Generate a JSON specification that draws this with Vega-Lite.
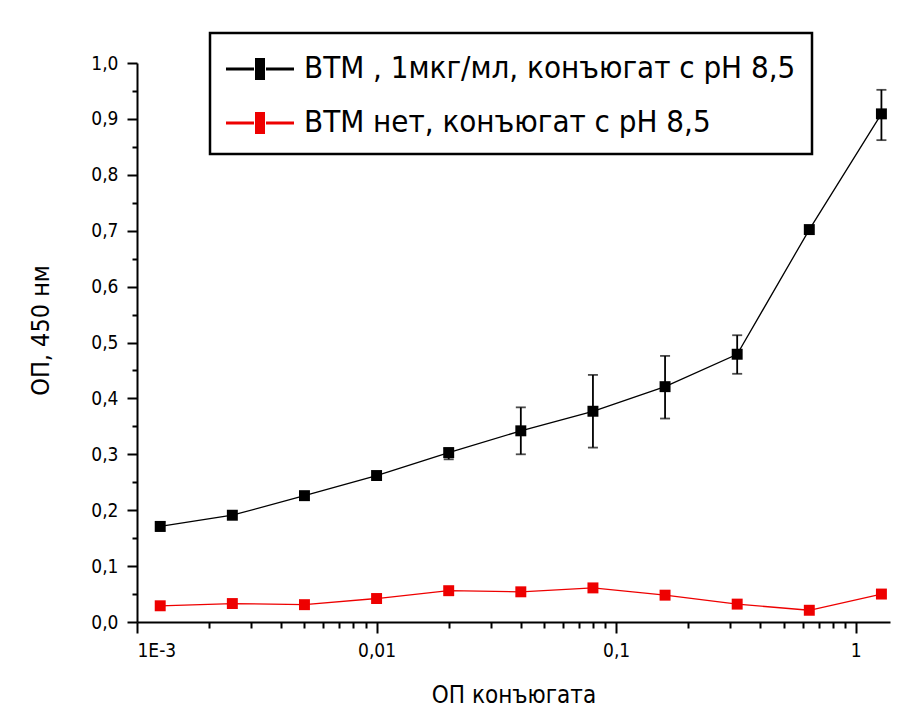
{
  "$schema": "https://vega.github.io/schema/vega-lite/v6.json",
  "autosize": {"type": "none"},
  "width": 753,
  "height": 559,
  "padding": {"left": 137, "top": 63, "right": 28, "bottom": 99},
  "background": "#ffffff",
  "config": {
    "view": {"stroke": null},
    "font": "DejaVu Sans Condensed, Liberation Sans, sans-serif",
    "axis": {"labelFont": "DejaVu Sans Condensed, Liberation Sans, sans-serif", "titleFont": "DejaVu Sans Condensed, Liberation Sans, sans-serif", "labelFontSize": 19, "labelColor": "#000", "titleColor": "#000", "domainColor": "#000", "tickColor": "#000", "grid": false, "titleFontWeight": "normal"}
  },
  "data": {
    "values": [
      {"x": 0.00125, "y": 0.171, "series": "ВТМ , 1мкг/мл, конъюгат с рН 8,5", "lo": 0.163, "hi": 0.179},
      {"x": 0.0025, "y": 0.191, "series": "ВТМ , 1мкг/мл, конъюгат с рН 8,5"},
      {"x": 0.005, "y": 0.226, "series": "ВТМ , 1мкг/мл, конъюгат с рН 8,5"},
      {"x": 0.01, "y": 0.262, "series": "ВТМ , 1мкг/мл, конъюгат с рН 8,5"},
      {"x": 0.02, "y": 0.303, "series": "ВТМ , 1мкг/мл, конъюгат с рН 8,5", "lo": 0.291, "hi": 0.311},
      {"x": 0.04, "y": 0.342, "series": "ВТМ , 1мкг/мл, конъюгат с рН 8,5", "lo": 0.300, "hi": 0.384},
      {"x": 0.08, "y": 0.377, "series": "ВТМ , 1мкг/мл, конъюгат с рН 8,5", "lo": 0.312, "hi": 0.442},
      {"x": 0.16, "y": 0.421, "series": "ВТМ , 1мкг/мл, конъюгат с рН 8,5", "lo": 0.364, "hi": 0.476},
      {"x": 0.32, "y": 0.479, "series": "ВТМ , 1мкг/мл, конъюгат с рН 8,5", "lo": 0.444, "hi": 0.513},
      {"x": 0.64, "y": 0.702, "series": "ВТМ , 1мкг/мл, конъюгат с рН 8,5"},
      {"x": 1.28, "y": 0.909, "series": "ВТМ , 1мкг/мл, конъюгат с рН 8,5", "lo": 0.862, "hi": 0.952},
      {"x": 0.00125, "y": 0.029, "series": "ВТМ нет, конъюгат с рН 8,5"},
      {"x": 0.0025, "y": 0.033, "series": "ВТМ нет, конъюгат с рН 8,5"},
      {"x": 0.005, "y": 0.031, "series": "ВТМ нет, конъюгат с рН 8,5"},
      {"x": 0.01, "y": 0.042, "series": "ВТМ нет, конъюгат с рН 8,5"},
      {"x": 0.02, "y": 0.056, "series": "ВТМ нет, конъюгат с рН 8,5"},
      {"x": 0.04, "y": 0.054, "series": "ВТМ нет, конъюгат с рН 8,5"},
      {"x": 0.08, "y": 0.061, "series": "ВТМ нет, конъюгат с рН 8,5"},
      {"x": 0.16, "y": 0.048, "series": "ВТМ нет, конъюгат с рН 8,5"},
      {"x": 0.32, "y": 0.032, "series": "ВТМ нет, конъюгат с рН 8,5"},
      {"x": 0.64, "y": 0.021, "series": "ВТМ нет, конъюгат с рН 8,5"},
      {"x": 1.28, "y": 0.050, "series": "ВТМ нет, конъюгат с рН 8,5"}
    ]
  },
  "resolve": {"axis": {"x": "independent", "y": "independent"}},
  "layer": [
    {
      "mark": {"type": "line", "strokeWidth": 1.3},
      "encoding": {
        "x": {"field": "x", "type": "quantitative",
          "scale": {"type": "log", "domain": [0.001, 1.39], "nice": false, "clamp": false},
          "axis": {"orient": "bottom", "values": [0.001, 0.01, 0.1, 1], "tickSize": 11, "tickWidth": 2, "domainWidth": 2,
            "labelExpr": "datum.value < 0.005 ? '1E-3' : datum.value < 0.05 ? '0,01' : datum.value < 0.5 ? '0,1' : '1'",
            "labelFontSize": 19, "labelPadding": 8, "title": "ОП конъюгата", "titleFontSize": 24, "titleY": 73, "titleBaseline": "middle"}},
        "y": {"field": "y", "type": "quantitative",
          "scale": {"domain": [0, 1], "nice": false},
          "axis": {"orient": "left", "values": [0, 0.1, 0.2, 0.3, 0.4, 0.5, 0.6, 0.7, 0.8, 0.9, 1.0], "tickSize": 10, "tickWidth": 2, "domainWidth": 2,
            "labelExpr": "replace(format(datum.value, '.1f'), '.', ',')",
            "labelFontSize": 19, "labelPadding": 9, "title": "ОП, 450 нм", "titleFontSize": 25, "titleX": -97, "titleY": 267, "titleBaseline": "middle"}},
        "color": {"field": "series", "type": "nominal",
          "scale": {"domain": ["ВТМ , 1мкг/мл, конъюгат с рН 8,5", "ВТМ нет, конъюгат с рН 8,5"], "range": ["#000000", "#ee0000"]},
          "legend": {"orient": "none", "legendX": 73, "legendY": -30, "title": null,
            "symbolType": "M-1,-0.075H0.4V0.075H-1Z M0.45,-0.55H0.95V0.55H0.45Z M1,-0.075H2.4V0.075H1Z",
            "symbolSize": 1600, "symbolStrokeWidth": 0, "symbolOpacity": 1,
            "labelFont": "DejaVu Sans Condensed, Liberation Sans, sans-serif", "labelFontSize": 31, "labelColor": "#000", "labelLimit": 800,
            "labelOffset": 38, "rowPadding": 19, "padding": 16,
            "strokeColor": "#000", "fillColor": "#ffffff",
            "encode": {"symbols": {"update": {"fill": {"scale": "color", "field": "value"}, "strokeWidth": {"value": 0}, "opacity": {"value": 1}}},
                       "legend": {"update": {"strokeWidth": {"value": 2.5}}}}}}
      }
    },
    {
      "mark": {"type": "point", "shape": "square", "filled": true, "size": 120, "opacity": 1},
      "encoding": {
        "x": {"field": "x", "type": "quantitative",
          "axis": {"orient": "bottom", "values": [0.002, 0.003, 0.004, 0.005, 0.006, 0.007, 0.008, 0.009, 0.02, 0.03, 0.04, 0.05, 0.06, 0.07, 0.08, 0.09, 0.2, 0.3, 0.4, 0.5, 0.6, 0.7, 0.8, 0.9],
            "tickSize": 6, "tickWidth": 2, "labels": false, "domain": false, "title": null}},
        "y": {"field": "y", "type": "quantitative",
          "axis": {"orient": "left", "values": [0.05, 0.15, 0.25, 0.35, 0.45, 0.55, 0.65, 0.75, 0.85, 0.95],
            "tickSize": 5, "tickWidth": 2, "labels": false, "domain": false, "title": null}},
        "color": {"field": "series", "type": "nominal"}
      }
    },
    {
      "transform": [{"filter": "isValid(datum.lo)"}],
      "mark": {"type": "rule", "color": "#000", "strokeWidth": 1.8},
      "encoding": {
        "x": {"field": "x", "type": "quantitative", "axis": null},
        "y": {"field": "lo", "type": "quantitative", "axis": null},
        "y2": {"field": "hi"}
      }
    },
    {
      "transform": [{"filter": "isValid(datum.lo)"}],
      "mark": {"type": "tick", "orient": "horizontal", "color": "#000", "size": 10, "thickness": 1.8},
      "encoding": {
        "x": {"field": "x", "type": "quantitative", "axis": null},
        "y": {"field": "lo", "type": "quantitative", "axis": null}
      }
    },
    {
      "transform": [{"filter": "isValid(datum.lo)"}],
      "mark": {"type": "tick", "orient": "horizontal", "color": "#000", "size": 10, "thickness": 1.8},
      "encoding": {
        "x": {"field": "x", "type": "quantitative", "axis": null},
        "y": {"field": "hi", "type": "quantitative", "axis": null}
      }
    }
  ]
}
